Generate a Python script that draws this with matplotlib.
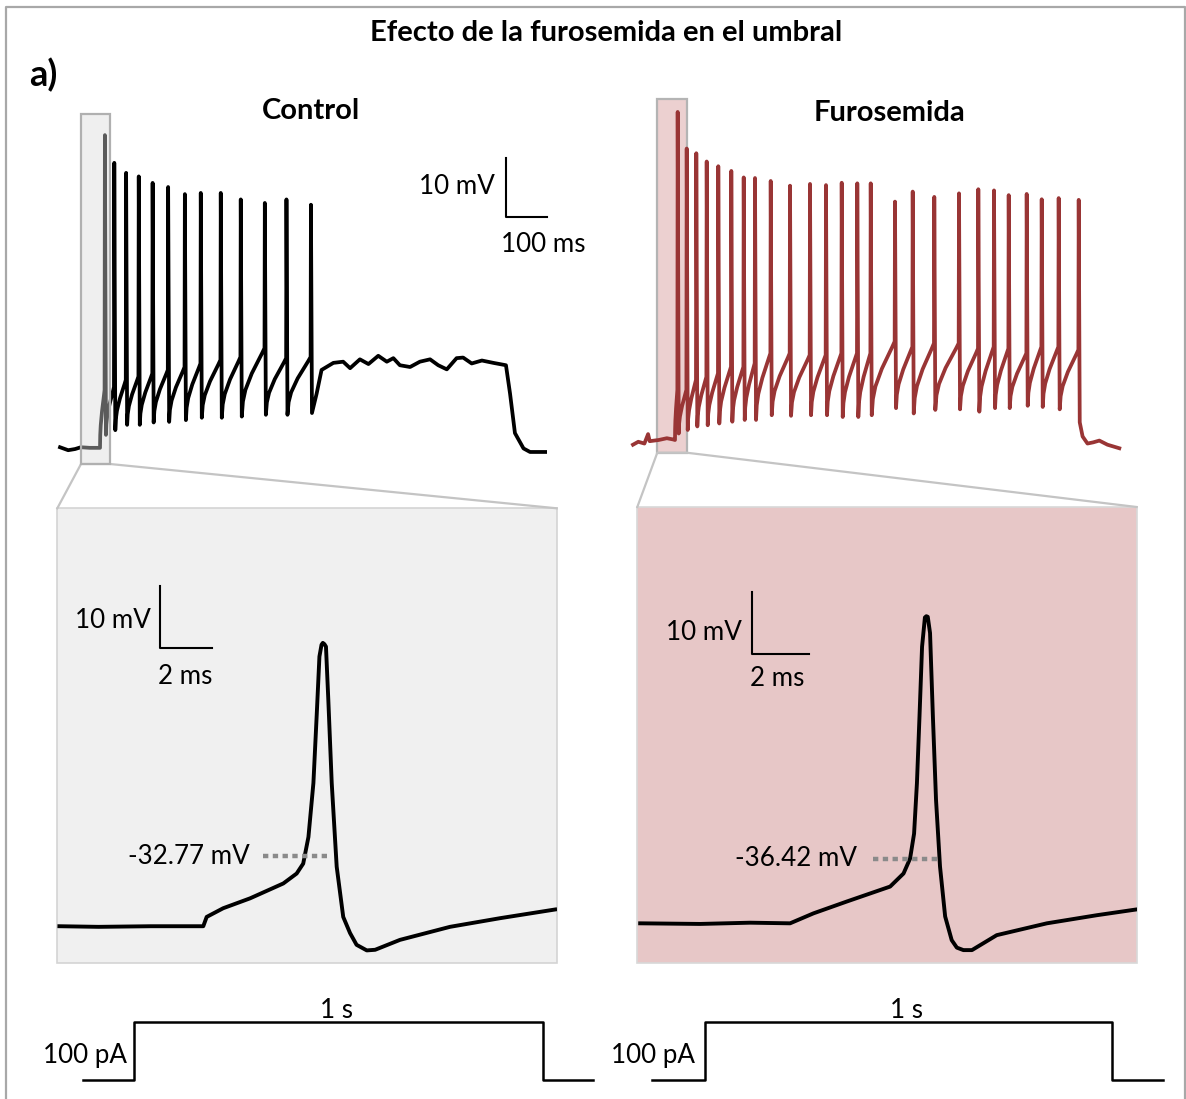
import matplotlib
matplotlib.use("Agg")
import matplotlib.pyplot as plt
from matplotlib.patches import Rectangle

plt.rcParams['font.family'] = ['Lato', 'DejaVu Sans']

W, H = 1186, 1099
RED = '#993535'

# ---- top traces (ms, mV) ----
ctrl_pre_t = [-98, -78, -61, -47, -25, 0]
ctrl_pre_v = [-44.7, -45.2, -45.0, -44.7, -44.8, -44.8]
ctrl_spike_t = [12, 35, 64, 95, 129, 167, 208, 247, 296, 345, 404, 457, 517]
ctrl_peak = [8.2, 3.5, 1.8, 1.2, 0.1, -0.6, -1.8, -1.6, -1.6, -2.7, -3.3, -2.7, -3.6]
ctrl_trough = [-42.6, -41.8, -40.9, -40.9, -40.5, -40.4, -40.1, -39.7, -39.7, -39.5, -39.2, -39.2, -38.9]
ctrl_thresh = [-35.0, -34.5, -33.3, -32.7, -32.2, -31.6, -31.1, -30.5, -29.9, -29.4, -27.9, -29.6, -29.4]
ctrl_tail_t = [531, 543, 572, 596, 613, 637, 658, 682, 703, 719, 735, 760, 784, 809, 829,
               850, 874, 890, 911, 936, 964, 995, 1005, 1017, 1038, 1054, 1091]
ctrl_tail_v = [-35.6, -31.6, -30.4, -30.2, -31.3, -29.8, -30.6, -29.2, -30.2, -29.6, -30.8,
               -31.1, -30.2, -29.8, -30.8, -31.5, -29.6, -29.5, -30.5, -30.0, -30.4, -30.8,
               -35.6, -42.3, -44.9, -45.5, -45.5]

furo_pre_t = [-103, -90, -75, -66, -62, -40, -20, -5, 0]
furo_pre_v = [-45.8, -45.3, -45.6, -44.0, -45.2, -45.0, -44.7, -44.9, -45.0]
furo_spike_t = [6.6, 28.7, 52.2, 77.7, 106.1, 138.0, 168.4, 196.1, 234.6, 281.9, 330.9, 370.1,
                408.6, 446.8, 479.7, 539.2, 582.6, 635.5, 696.1, 743.4, 781.9, 817.9, 862.0,
                898.8, 940.4, 989.5]
furo_peak = [10.6, 4.4, 3.6, 2.2, 1.4, 0.6, -0.5, -0.6, -1.1, -1.9, -1.6, -1.8, -1.4, -1.5,
             -1.5, -4.6, -2.9, -3.8, -3.2, -2.5, -2.7, -3.5, -3.3, -4.2, -4.0, -4.3]
furo_trough = [-43.9, -43.3, -42.7, -42.5, -42.2, -41.9, -41.6, -41.6, -40.8, -40.9, -40.8,
               -40.8, -41.1, -41.1, -40.8, -39.6, -40.5, -39.9, -39.8, -40.2, -39.6, -39.6,
               -39.2, -39.4, -39.8, -42.0]
furo_thresh = [-36.5, -36.5, -34.8, -34.3, -33.7, -32.6, -32.6, -32.0, -30.3, -30.3, -30.6,
               -30.6, -30.3, -30.3, -30.3, -28.3, -29.2, -28.6, -28.6, -29.5, -29.2, -29.5,
               -30.3, -29.2, -29.2, -29.7]
furo_tail_t = [999, 1011, 1025, 1040, 1060, 1089]
furo_tail_v = [-44.4, -45.6, -45.4, -45.1, -45.8, -46.4]

# ---- zoomed first spike (ms from step onset, mV) ----
ctrl_zoom_t = [-5.5, -4.0, -2.0, 0.0, 0.13, 0.76, 1.79, 3.06, 3.57, 3.82, 4.02, 4.21, 4.34,
               4.44, 4.52, 4.57, 4.63, 4.69, 4.78, 4.91, 5.10, 5.35, 5.61, 5.86, 6.25, 6.57,
               7.52, 9.43, 11.35, 13.45]
ctrl_zoom_v = [-44.1, -44.2, -44.1, -44.1, -42.6, -41.2, -39.6, -37.2, -35.6, -34.0, -29.7,
               -21.0, -9.7, -0.6, 1.3, 1.6, 1.4, 1.0, -7.6, -21.0, -34.5, -42.6, -45.2,
               -47.1, -48.0, -47.9, -46.3, -44.2, -42.8, -41.4]
furo_zoom_t = [-5.26, -3.16, -1.40, 0.0, 0.82, 1.99, 3.51, 3.98, 4.21, 4.35, 4.45, 4.54, 4.63,
               4.73, 4.78, 4.83, 4.91, 5.01, 5.12, 5.26, 5.44, 5.67, 5.85, 6.08, 6.38, 7.25,
               9.01, 10.76, 12.11]
furo_zoom_v = [-46.7, -46.8, -46.6, -46.7, -45.1, -43.2, -40.8, -38.7, -36.3, -32.3, -24.2,
               -13.5, -2.3, 2.4, 2.6, 2.5, -0.1, -13.5, -26.9, -37.6, -45.6, -49.4, -50.6,
               -51.0, -51.0, -48.6, -46.7, -45.4, -44.5]
ctrl_threshold = -32.77
furo_threshold = -36.42

# ---- current step (ms, pA) ----
ctrl_step_t = [-125, 0, 0, 1000, 1000, 1122]
furo_step_t = [-130, 0, 0, 1000, 1000, 1125]
step_i = [0, 0, 100, 100, 0, 0]

# shape of the slow ramp between spikes (fraction of time, fraction of rise)
ramp_ft = [0.05, 0.16, 0.44, 0.9]
ramp_fv = [0.22, 0.39, 0.63, 0.93]


def build_trace(pre_t, pre_v, sp_t, peak, trough, thresh, tail_t, tail_v):
    t, v = list(pre_t), list(pre_v)
    t0, v0 = pre_t[-1], pre_v[-1]
    for i in range(len(sp_t)):
        t1, v1 = sp_t[i] - 0.8, thresh[i]
        for ft, fv in zip(ramp_ft, ramp_fv):
            t.append(t0 + ft * (t1 - t0))
            v.append(v0 + fv * (v1 - v0))
        t += [t1, sp_t[i]]
        v += [v1, peak[i]]
        if i < len(trough):
            t0, v0 = sp_t[i] + 2.5, trough[i]
            t.append(t0)
            v.append(v0)
    return t + list(tail_t), v + list(tail_v)


fig = plt.figure(figsize=(W / 100, H / 100), dpi=100)


def over(z):
    ax = fig.add_axes([0, 0, 1, 1])
    ax.set_xlim(0, W)
    ax.set_ylim(H, 0)
    ax.axis('off')
    ax.set_zorder(z)
    ax.patch.set_alpha(0)
    return ax


def px_axes(left, top, right, bottom, xlim, ylim, z=2):
    ax = fig.add_axes([left / W, 1 - bottom / H, (right - left) / W, (bottom - top) / H])
    ax.set_xlim(xlim)
    ax.set_ylim(ylim)
    ax.axis('off')
    ax.set_zorder(z)
    ax.patch.set_alpha(0)
    return ax


bg = over(0)
fg = over(10)

# outer frame
bg.plot([6, 6, 1185, 1185], [1105, 7, 7, 1105], color='#a8a8a8', lw=1.6, clip_on=False)

# inset backgrounds
bg.add_patch(Rectangle((57.3, 508.3), 499.4, 455, fc='#f0f0f0', ec='#d4d4d4', lw=1.2))
bg.add_patch(Rectangle((637.3, 507), 499.4, 456, fc='#e7c7c7', ec='#d8d8d8', lw=1.2))

# connectors
bg.plot([57.3, 81, 110, 556.7], [508.3, 464, 464, 508.3], color='#c4c4c4', lw=1.6)
bg.plot([637.3, 657.3, 686.7, 1136.7], [507, 452.7, 452.7, 507], color='#c4c4c4', lw=1.6)

# highlight boxes
fg.add_patch(Rectangle((81, 114), 29, 350, fc=(219 / 255, 219 / 255, 219 / 255), alpha=0.42, lw=0))
fg.add_patch(Rectangle((81, 114), 29, 350, fc='none', ec='#b0b0b0', lw=1.6))
bg.add_patch(Rectangle((657.3, 99.3), 29.4, 353.4, fc='#ecd0d0', ec='#b4b4b4', lw=1.6))

# top traces
ax_c = px_axes(50, 100, 560, 480, (-122.55, 1127.45), (-50.25, 14.15))
ct, cv = build_trace(ctrl_pre_t, ctrl_pre_v, ctrl_spike_t, ctrl_peak, ctrl_trough,
                     ctrl_thresh, ctrl_tail_t, ctrl_tail_v)
ax_c.plot(ct, cv, color='black', lw=2.7, solid_joinstyle='round', clip_on=False)
ax_c.plot([995, 995, 1095], [4.3, -5.7, -5.7], color='black', lw=1.5)

ax_f = px_axes(620, 90, 1140, 480, (-134.8, 1139.7), (-51.78, 14.32))
ft_, fv_ = build_trace(furo_pre_t, furo_pre_v, furo_spike_t, furo_peak, furo_trough,
                       furo_thresh, furo_tail_t, furo_tail_v)
ax_f.plot(ft_, fv_, color=RED, lw=2.7, solid_joinstyle='round', clip_on=False)

# zoomed spikes
ax_cz = px_axes(57.3, 508.3, 556.7, 963.3, (-5.58, 13.51), (-50.08, 23.31))
ax_cz.plot(ctrl_zoom_t, ctrl_zoom_v, color='black', lw=2.8, solid_joinstyle='round')
ax_cz.plot([2.29, 4.78], [ctrl_threshold] * 2, color='#8a8a8a', lw=3.2,
           linestyle=(0, (1.2, 1.0)), dash_capstyle='butt', zorder=3)
ax_cz.plot([-1.66, -1.66, 0.34], [10.78, 0.78, 0.78], color='black', lw=1.5)

ax_fz = px_axes(637.3, 507, 1136.7, 963, (-5.36, 12.16), (-53.07, 20.13))
ax_fz.plot(furo_zoom_t, furo_zoom_v, color='black', lw=2.8, solid_joinstyle='round')
ax_fz.plot([2.92, 5.15], [furo_threshold] * 2, color='#8a8a8a', lw=3.2,
           linestyle=(0, (1.2, 1.0)), dash_capstyle='butt', zorder=3)
ax_fz.plot([-1.32, -1.32, 0.68], [6.53, -3.47, -3.47], color='black', lw=1.5)

# current steps
ax_cs = px_axes(70, 1000, 600, 1095, (-156.5, 1139.4), (-25.9, 137.9))
ax_cs.plot(ctrl_step_t, step_i, color='black', lw=1.8)
ax_fs = px_axes(640, 1000, 1170, 1095, (-159.7, 1142.5), (-25.9, 137.9))
ax_fs.plot(furo_step_t, step_i, color='black', lw=1.8)

# texts
fg.text(606, 33, 'Efecto de la furosemida en el umbral', ha='center', va='center',
        fontsize=21, fontweight='bold')
fg.text(29, 75, 'a)', ha='left', va='center', fontsize=26, fontweight='bold')
fg.text(311, 111, 'Control', ha='center', va='center', fontsize=21, fontweight='bold')
fg.text(890, 113, 'Furosemida', ha='center', va='center', fontsize=21, fontweight='bold')

fs = 18.7
fg.text(495, 186, '10 mV', ha='right', va='center', fontsize=fs)
fg.text(543, 244, '100 ms', ha='center', va='center', fontsize=fs)
fg.text(151, 620, '10 mV', ha='right', va='center', fontsize=fs)
fg.text(185, 676, '2 ms', ha='center', va='center', fontsize=fs)
fg.text(250, 857, '-32.77 mV', ha='right', va='center', fontsize=fs)
fg.text(742, 632, '10 mV', ha='right', va='center', fontsize=fs)
fg.text(777, 678, '2 ms', ha='center', va='center', fontsize=fs)
fg.text(857, 859, '-36.42 mV', ha='right', va='center', fontsize=fs)
fg.text(337, 1010, '1 s', ha='center', va='center', fontsize=fs)
fg.text(907, 1010, '1 s', ha='center', va='center', fontsize=fs)
fg.text(127, 1055, '100 pA', ha='right', va='center', fontsize=fs)
fg.text(695, 1055, '100 pA', ha='right', va='center', fontsize=fs)

fig.savefig('out.png', dpi=100)
